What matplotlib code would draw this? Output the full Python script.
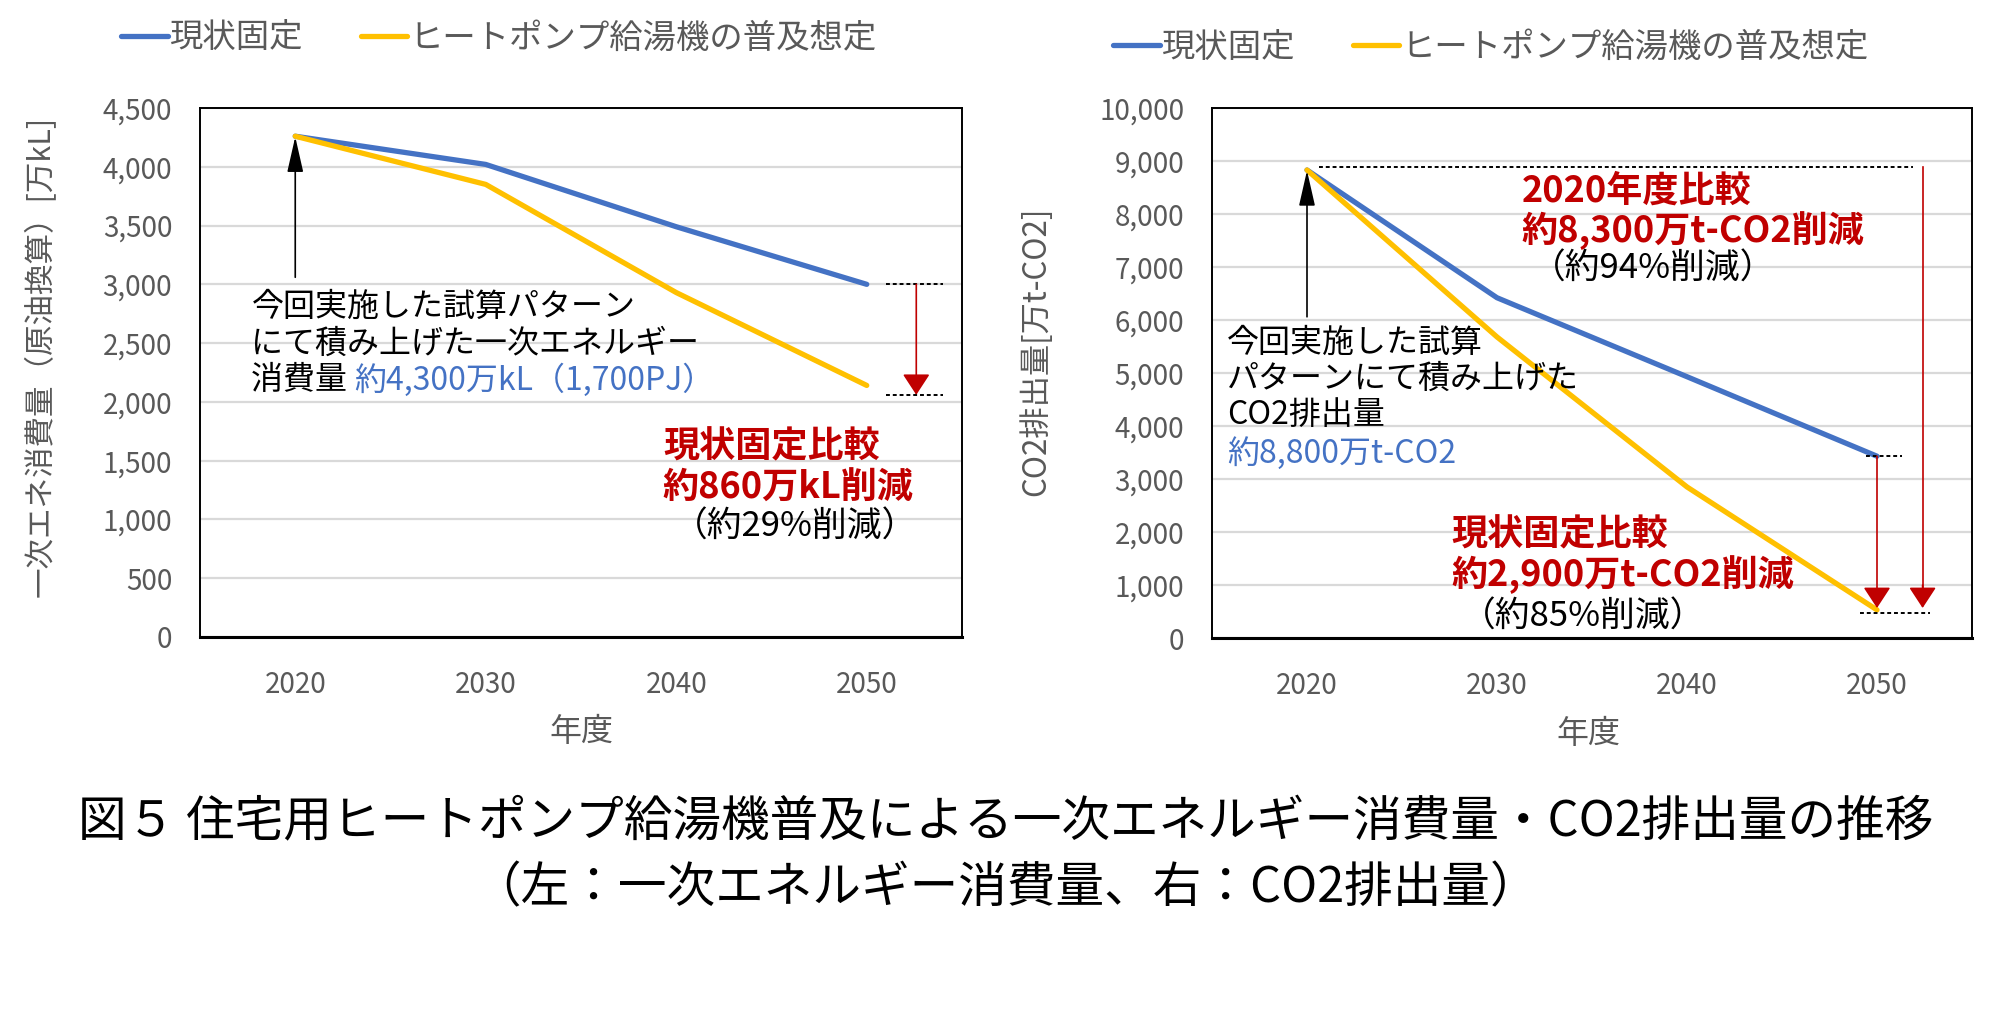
import numpy as np
import matplotlib
matplotlib.use('Agg')
import matplotlib.pyplot as plt

plt.rcParams['font.family'] = ['Noto Sans CJK JP', 'DejaVu Sans']

# data
years = ['2020', '2030', '2040', '2050']
energy_base = [4260, 4020, 3490, 3000]     # 現状固定 [万kL]
energy_hp = [4260, 3850, 2930, 2140]       # ヒートポンプ給湯機の普及想定
co2_base = [8830, 6420, 4930, 3430]        # 現状固定 [万t-CO2]
co2_hp = [8830, 5680, 2850, 530]
series_names = ['現状固定', 'ヒートポンプ給湯機の普及想定']

blue = '#4472C4'
yellow = '#FFC000'
red = '#C00000'
gray = '#595959'

W, H = 1992, 1028
fig = plt.figure(figsize=(W / 100, H / 100), dpi=100)


def px_axes(x0, y0, x1, y1):
    return fig.add_axes([x0 / W, 1 - y1 / H, (x1 - x0) / W, (y1 - y0) / H])


def style(ax, ymax, ystep, ylabel, lab_x, lab_y, lab_size):
    x = np.arange(len(years))
    ax.set_xlim(-0.5, len(years) - 0.5)
    ax.set_ylim(0, ymax)
    ax.set_xticks(x)
    ax.set_xticklabels(years)
    ax.set_yticks(np.arange(0, ymax + 1, ystep))
    ax.yaxis.set_major_formatter(matplotlib.ticker.FuncFormatter(lambda v, p: f'{int(v):,}'))
    ax.tick_params(length=0, labelsize=20, colors=gray)
    ax.tick_params(axis='y', pad=20)
    ax.tick_params(axis='x', pad=24)
    ax.grid(axis='y', color='#D9D9D9', lw=1.6)
    ax.set_axisbelow(True)
    for s in ax.spines.values():
        s.set_color('black')
        s.set_linewidth(1.4)
    ax.spines['bottom'].set_linewidth(2.2)
    ax.set_ylabel(ylabel, fontsize=lab_size, color=gray)
    ax.yaxis.set_label_coords(lab_x, lab_y)
    ax.set_xlabel('年度', fontsize=23, color=gray)
    ax.xaxis.set_label_coords(0.5, -0.15)


def red_arrow(ax, x, y0, y1):
    ax.annotate('', xy=(x, y1), xytext=(x, y0),
                arrowprops=dict(arrowstyle='-|>,head_length=1.3,head_width=0.85',
                                mutation_scale=10, color=red, lw=1.2,
                                shrinkA=0, shrinkB=0))


def black_arrow(ax, x, y0, y1):
    ax.annotate('', xy=(x, y1), xytext=(x, y0),
                arrowprops=dict(arrowstyle='-|>,head_length=2.2,head_width=0.5',
                                mutation_scale=10, color='black', lw=1.2,
                                shrinkA=0, shrinkB=0))


def dash(ax, x0, x1, y):
    ax.plot([x0, x1], [y, y], color='black', lw=1.4, ls=(0, (2, 1.5)))


def legend(ax, x_px, y_px):
    ax.legend(loc='center left', bbox_to_anchor=(x_px / W, 1 - y_px / H),
              bbox_transform=fig.transFigure, ncol=2, frameon=False,
              fontsize=24, labelcolor=gray, handlelength=1.4, handletextpad=0.08,
              columnspacing=1.7, borderpad=0, borderaxespad=0)


# ---- left: primary energy ----
ax1 = px_axes(200, 108, 962, 637)
x = np.arange(len(years))
ax1.plot(x, energy_base, color=blue, lw=3.8, label=series_names[0], solid_capstyle='round')
ax1.plot(x, energy_hp, color=yellow, lw=3.8, label=series_names[1], solid_capstyle='round')
style(ax1, 4500, 500, '一次エネ消費量（原油換算）[万kL]', -0.188, 0.53, 22)
legend(ax1, 121, 38)

black_arrow(ax1, 0, 3060, energy_base[0] - 5)
ax1.text(-0.23, 2810, '今回実施した試算パターン', fontsize=23, va='center')
ax1.text(-0.23, 2496, 'にて積み上げた一次エネルギー', fontsize=23, va='center')
t3 = ax1.text(-0.23, 2182, '消費量 ', fontsize=23, va='center')
ax1.annotate('約4,300万kL（1,700PJ）', xy=(1, 0.5), xycoords=t3, fontsize=23,
             color=blue, va='center', ha='left')
dash(ax1, 3.10, 3.40, energy_base[3])
dash(ax1, 3.10, 3.40, 2055)
red_arrow(ax1, 3.26, energy_base[3], 2060)
ax1.text(1.93, 1613, '現状固定比較', fontsize=26, color=red, fontweight='bold', va='center')
ax1.text(1.93, 1265, '約860万kL削減', fontsize=26, color=red, fontweight='bold', va='center')
ax1.text(1.98, 934, '（約29%削減）', fontsize=25, color='black', va='center')

# ---- right: CO2 ----
ax2 = px_axes(1212, 108, 1972, 638)
ax2.plot(x, co2_base, color=blue, lw=3.8, label=series_names[0], solid_capstyle='round')
ax2.plot(x, co2_hp, color=yellow, lw=3.8, label=series_names[1], solid_capstyle='round')
style(ax2, 10000, 1000, 'CO2排出量[万t-CO2]', -0.21, 0.54, 22.5)
ax2.xaxis.set_label_coords(0.495, -0.15)
legend(ax2, 1113, 47)

black_arrow(ax2, 0, 6060, co2_base[0] - 10)
ax2.text(-0.42, 5566, '今回実施した試算', fontsize=23, va='center')
ax2.text(-0.42, 4887, 'パターンにて積み上げた', fontsize=23, va='center')
ax2.text(-0.42, 4208, 'CO2排出量', fontsize=23, va='center')
ax2.text(-0.42, 3491, '約8,800万t-CO2', fontsize=23, color=blue, va='center')

dash(ax2, 0.063, 3.19, 8890)
ax2.plot([3.24, 3.24], [8890, 900], color=red, lw=1.2)
red_arrow(ax2, 3.24, 1000, 566)
dash(ax2, 2.94, 3.13, co2_base[3])
dash(ax2, 2.91, 3.28, 472)
red_arrow(ax2, 3.0, co2_base[3], 566)

ax2.text(1.13, 8434, '2020年度比較', fontsize=26, color=red, fontweight='bold', va='center')
ax2.text(1.13, 7679, '約8,300万t-CO2削減', fontsize=26, color=red, fontweight='bold', va='center')
ax2.text(1.18, 6962, '（約94%削減）', fontsize=25, color='black', va='center')
ax2.text(0.76, 1943, '現状固定比較', fontsize=26, color=red, fontweight='bold', va='center')
ax2.text(0.76, 1189, '約2,900万t-CO2削減', fontsize=26, color=red, fontweight='bold', va='center')
ax2.text(0.81, 396, '（約85%削減）', fontsize=25, color='black', va='center')

# ---- caption ----
fig.text(0.505, 1 - 823 / H, '図５ 住宅用ヒートポンプ給湯機普及による一次エネルギー消費量・CO2排出量の推移',
         fontsize=35, ha='center', va='center')
fig.text(0.505, 1 - 889 / H, '（左：一次エネルギー消費量、右：CO2排出量）',
         fontsize=35, ha='center', va='center')

fig.savefig('out.png', dpi=100, facecolor='white')
